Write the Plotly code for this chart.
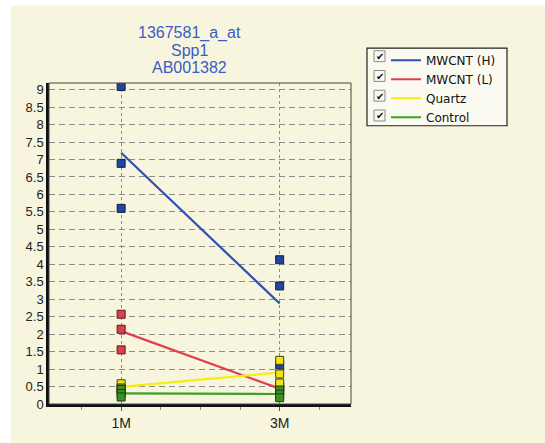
import numpy as np
import plotly.graph_objects as go

# Time points (numeric positions) and their labels
time_pos = [1, 3]
time_labels = ["1M", "3M"]

# Replicate expression values per group at 1M and 3M
mwcnt_h_1m = [9.09, 6.89, 5.60]
mwcnt_h_3m = [4.13, 3.38, 1.12]
mwcnt_l_1m = [2.57, 2.14, 1.55]
mwcnt_l_3m = [0.50, 0.45, 0.37]
quartz_1m = [0.58, 0.46, 0.43]
quartz_3m = [1.25, 0.86, 0.60]
control_1m = [0.42, 0.30, 0.20]
control_3m = [0.40, 0.28, 0.18]

title_lines = ["1367581_a_at", "Spp1", "AB001382"]

group_names = ["MWCNT (H)", "MWCNT (L)", "Quartz", "Control"]
group_data = [
    (mwcnt_h_1m, mwcnt_h_3m),
    (mwcnt_l_1m, mwcnt_l_3m),
    (quartz_1m, quartz_3m),
    (control_1m, control_3m),
]
line_colors = ["#2f4fb4", "#e0404e", "#f6ee12", "#3fa024"]
marker_colors = ["#22449c", "#d8404c", "#f2e414", "#3a9222"]
marker_edges = ["#10204a", "#5a1a1a", "#4a4410", "#1a3a10"]

BG = "#f8f5de"
W, H = 545, 443
L, R, T, B = 49, 194, 83, 37
PW, PH = W - L - R, H - T - B


def px_x(p):
    return (p - L) / PW


def px_y(p):
    return (H - B - p) / PH


fig = go.Figure()

# mean lines (legend entries)
for name, (a, b), c in zip(group_names, group_data, line_colors):
    fig.add_trace(go.Scatter(
        x=time_pos, y=[np.mean(a), np.mean(b)], mode="lines", name=name,
        line=dict(color=c, width=2.2), showlegend=True,
    ))

# replicate points
for name, (a, b), c, e in zip(group_names, group_data, marker_colors, marker_edges):
    xs = [time_pos[0]] * len(a) + [time_pos[1]] * len(b)
    fig.add_trace(go.Scatter(
        x=xs, y=list(a) + list(b), mode="markers", name=name, showlegend=False,
        marker=dict(symbol="square", size=8, color=c, line=dict(color=e, width=1)),
    ))

shapes = [
    # beige panel behind everything
    dict(type="rect", xref="paper", yref="paper", x0=px_x(11), x1=px_x(W + 5),
         y0=px_y(H + 5), y1=px_y(5), fillcolor=BG, line=dict(width=0), layer="below"),
    # thin frame around the plot area
    dict(type="rect", xref="paper", yref="paper", x0=0, x1=1, y0=0, y1=1,
         line=dict(color="#444444", width=1), layer="above"),
    # legend box
    dict(type="rect", xref="paper", yref="paper", x0=px_x(367), x1=px_x(507),
         y0=px_y(126), y1=px_y(48), line=dict(color="#222222", width=1.2),
         fillcolor="#fbfaf0"),
]

annotations = []
# three-line title
for i, line in enumerate(title_lines):
    annotations.append(dict(text=line, xref="paper", yref="paper",
                            x=px_x(189), y=px_y(32.5 + i * 17.3),
                            xanchor="center", yanchor="middle", showarrow=False,
                            font=dict(family="Liberation Sans, Arial", size=16,
                                      color="#3a5cc4")))

# checkboxes in the legend
for i in range(4):
    cy = 56 + i * 19.9
    shapes.append(dict(type="rect", xref="paper", yref="paper",
                       x0=px_x(374), x1=px_x(385), y0=px_y(cy + 5.5), y1=px_y(cy - 5.5),
                       line=dict(color="#8a8a80", width=1), fillcolor="#fbfaf0"))
    annotations.append(dict(text="✔", xref="paper", yref="paper",
                            x=px_x(379.5), y=px_y(cy + 0.5), showarrow=False,
                            xanchor="center", yanchor="middle",
                            font=dict(family="DejaVu Sans", size=10, color="#111111")))

fig.update_layout(
    width=W, height=H,
    margin=dict(l=L, r=R, t=T, b=B, pad=0),
    paper_bgcolor="white",
    plot_bgcolor=BG,
    showlegend=True,
    legend=dict(x=px_x(386), y=px_y(45.5), xanchor="left", yanchor="top",
                bgcolor="rgba(0,0,0,0)", borderwidth=0,
                font=dict(family="DejaVu Sans", size=12, color="#111111"),
                tracegroupgap=0, itemwidth=30),
    shapes=shapes,
    annotations=annotations,
    xaxis=dict(
        range=[0.09, 3.9], tickmode="array", tickvals=time_pos, ticktext=time_labels,
        showgrid=True, gridcolor="#8c8c8c", griddash="3px,3px", gridwidth=1,
        showline=True, linecolor="#111111", linewidth=2.5,
        ticks="outside", ticklen=4, tickcolor="#555555",
        minor=dict(dtick=0.5, tick0=0, ticks="outside", ticklen=3,
                   tickcolor="#888888", showgrid=False),
        zeroline=False,
        tickfont=dict(family="Liberation Sans, Arial", size=14, color="#222222"),
    ),
    yaxis=dict(
        range=[0, 9.19], tickmode="linear", tick0=0, dtick=0.5,
        showgrid=True, gridcolor="#8c8c8c", griddash="6px,4px", gridwidth=1,
        showline=True, linecolor="#111111", linewidth=2.5,
        ticks="", zeroline=False,
        tickfont=dict(family="Liberation Sans, Arial", size=13, color="#222222"),
    ),
)

fig.write_html("out.html")
